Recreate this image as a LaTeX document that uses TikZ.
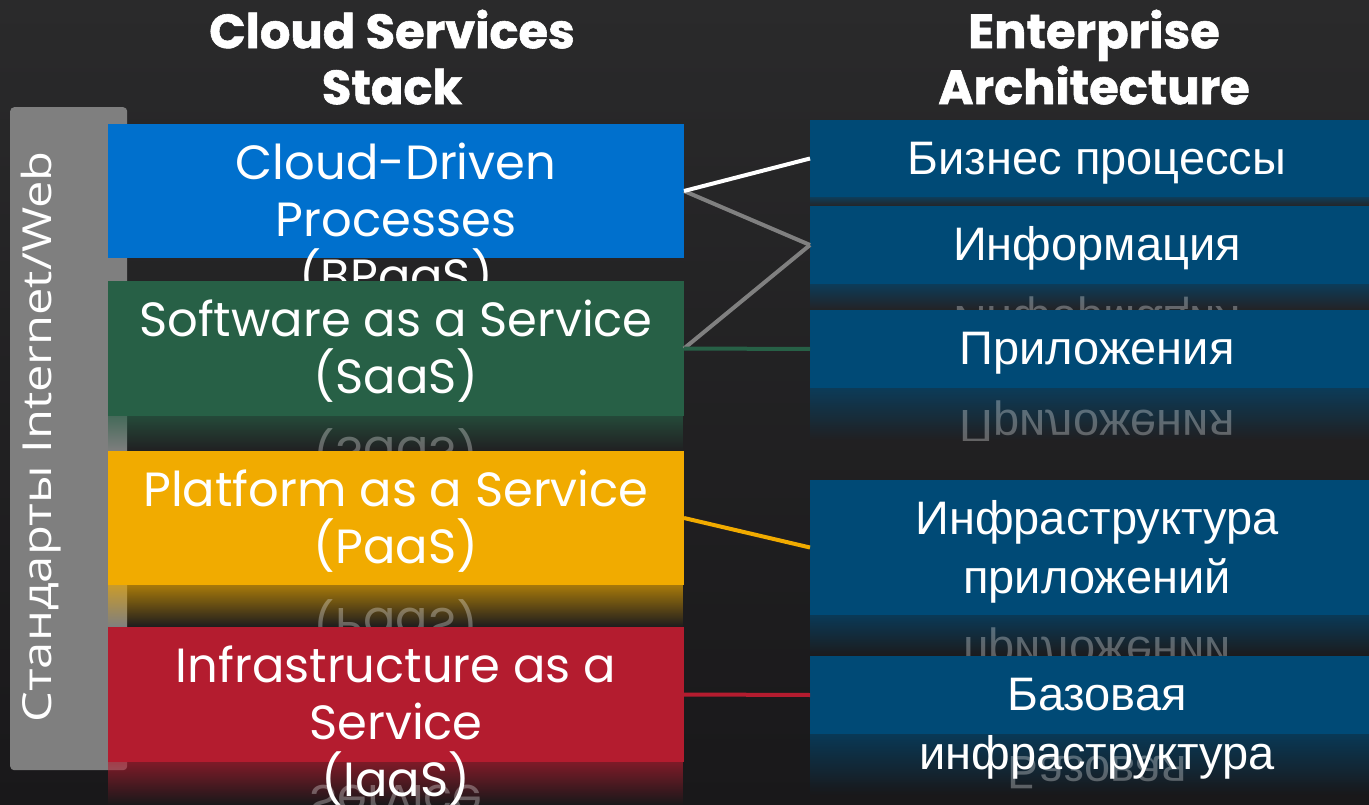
\documentclass[tikz,border=0pt]{standalone}
\usepackage{fontspec}
\setmainfont{Poppins}[BoldFeatures={FakeBold=1.2}]
\newfontfamily\ru{Liberation Sans}
\newfontfamily\side{Open Sans}[FakeStretch=1.22]
\usetikzlibrary{fadings}
\definecolor{bgtop}{HTML}{2A2A2B}
\definecolor{bgbot}{HTML}{19181A}
\definecolor{barc}{HTML}{7F7F7F}
\definecolor{cblue}{HTML}{0070CD}
\definecolor{cgreen}{HTML}{276046}
\definecolor{cyellow}{HTML}{F1AB00}
\definecolor{cred}{HTML}{B41C2F}
\definecolor{cnavy}{HTML}{004A76}
\definecolor{lgray}{HTML}{808080}
\tikzfading[name=refl, top color=transparent!35, bottom color=transparent!100]
\begin{document}
\begin{tikzpicture}[x=1pt,y=-1pt,
  lbox/.style={rectangle, inner sep=0, outer sep=0, anchor=north west, minimum width=576pt},
  rbox/.style={rectangle, inner sep=0, outer sep=0, anchor=north west, minimum width=559pt, fill=cnavy},
  ltxt/.style={text=white, align=center, inner sep=0, anchor=north, font=\fontsize{48}{57}\selectfont},
  rtxt/.style={text=white, align=center, inner sep=0, anchor=north, font=\ru\fontsize{47}{59}\selectfont},
  lmir/.style={text=white, text opacity=0.3, inner sep=0, anchor=base, font=\fontsize{48}{57}\selectfont},
  rmir/.style={text=white, text opacity=0.3, inner sep=0, anchor=base, font=\ru\fontsize{47}{59}\selectfont},
  ttl/.style={text=white, align=center, inner sep=0, anchor=north, font=\bfseries\fontsize{48}{56}\selectfont},
  conn/.style={line width=4pt}
]
\useasboundingbox (0,0) rectangle (1369,805);
\shade[top color=bgtop, bottom color=bgbot] (0,0) rectangle (1369,805);

% titles
\node[ttl] (t1) at (392,-1) {\rule{0pt}{49pt}Cloud Services\\Stack};
\node[ttl] (t2) at (1094,-1) {\rule{0pt}{49pt}Enterprise\\Architecture};

% side bar
\node[rectangle, rounded corners=4pt, fill=barc, anchor=north west, minimum width=117pt, minimum height=663pt, inner sep=0] (bar) at (10,107) {};
\node[rotate=90, anchor=base, text=white, inner sep=0, font=\side\fontsize{40}{48}\selectfont] (bartxt) at (51,437) {Стандарты Internet/Web};

% ---------- left stack ----------
\node[lbox, fill=cblue, minimum height=134pt] (bp) at (108,124) {};
\node[ltxt] (bpt) at (396,131) {\rule{0pt}{48pt}Cloud-Driven\\Processes\\(BPaaS)};

\fill[cgreen, path fading=refl] (108,416) rectangle (684,451);
\begin{scope}
\clip (108,416) rectangle (684,451);
\node[lmir] (saasm) at (396,437.5) {\scalebox{1}[-1]{(SaaS)}};
\end{scope}
\node[lbox, fill=cgreen, minimum height=135pt] (saas) at (108,281) {};
\node[ltxt] (saast) at (396,288) {\rule{0pt}{48pt}Software as a Service\\(SaaS)};

\fill[cyellow, path fading=refl] (108,585) rectangle (684,627);
\begin{scope}
\clip (108,585) rectangle (684,627);
\node[lmir] (paasm) at (396,608) {\scalebox{1}[-1]{(PaaS)}};
\end{scope}
\node[lbox, fill=cyellow, minimum height=134pt] (paas) at (108,451) {};
\node[ltxt] (paast) at (396,458) {\rule{0pt}{48pt}Platform as a Service\\(PaaS)};

\fill[cred, path fading=refl] (108,762) rectangle (684,805);
\begin{scope}
\clip (108,762) rectangle (684,805);
\node[lmir] (iaasm) at (396,785) {\scalebox{1}[-1]{Service}};
\end{scope}
\node[lbox, fill=cred, minimum height=135pt] (iaas) at (108,627) {};
\node[ltxt] (iaast) at (396,634) {\rule{0pt}{48pt}Infrastructure as a\\Service\\(IaaS)};

% ---------- right stack ----------
\fill[cnavy, path fading=refl] (810,197) rectangle (1369,206);
\node[rbox, minimum height=77pt] (biz) at (810,120) {};
\node[rtxt] (bizt) at (1097,127.5) {\rule{0pt}{47pt}Бизнес процессы};

\fill[cnavy, path fading=refl] (810,284) rectangle (1369,310);
\begin{scope}
\clip (810,284) rectangle (1369,310);
\node[rmir] (infom) at (1097,306) {\scalebox{1}[-1]{Информация}};
\end{scope}
\node[rbox, minimum height=78pt] (info) at (810,206) {};
\node[rtxt] (infot) at (1097,213.5) {\rule{0pt}{47pt}Информация};

\fill[cnavy, path fading=refl] (810,388) rectangle (1369,440);
\begin{scope}
\clip (810,388) rectangle (1369,440);
\node[rmir] (appm) at (1097,410) {\scalebox{1}[-1]{Приложения}};
\end{scope}
\node[rbox, minimum height=78pt] (app) at (810,310) {};
\node[rtxt] (appt) at (1097,317.5) {\rule{0pt}{47pt}Приложения};

\fill[cnavy, path fading=refl] (810,615) rectangle (1369,656);
\begin{scope}
\clip (810,615) rectangle (1369,656);
\node[rmir] (appinfm) at (1097,637) {\scalebox{1}[-1]{приложений}};
\end{scope}
\node[rbox, minimum height=135pt] (appinf) at (810,480) {};
\node[rtxt] (appinft) at (1097,487.5) {\rule{0pt}{47pt}Инфраструктура\\приложений};

\fill[cnavy, path fading=refl] (810,734) rectangle (1369,795);
\begin{scope}
\clip (810,734) rectangle (1369,795);
\node[rmir] (basem) at (1097,756) {\scalebox{1}[-1]{Базовая}};
\end{scope}
\node[rbox, minimum height=78pt] (base) at (810,656) {};
\node[rtxt] (baset) at (1097,663.5) {\rule{0pt}{47pt}Базовая\\инфраструктура};

% ---------- connectors ----------
\draw[conn, lgray] (bp.east) -- (info.west);
\draw[conn, lgray] (saas.east) -- (info.west);
\draw[conn, white] (bp.east) -- (biz.west);
\draw[conn, cgreen] (saas.east) -- (app.west);
\draw[conn, cyellow] (paas.east) -- (appinf.west);
\draw[conn, cred] (iaas.east) -- (base.west);
\end{tikzpicture}
\end{document}
